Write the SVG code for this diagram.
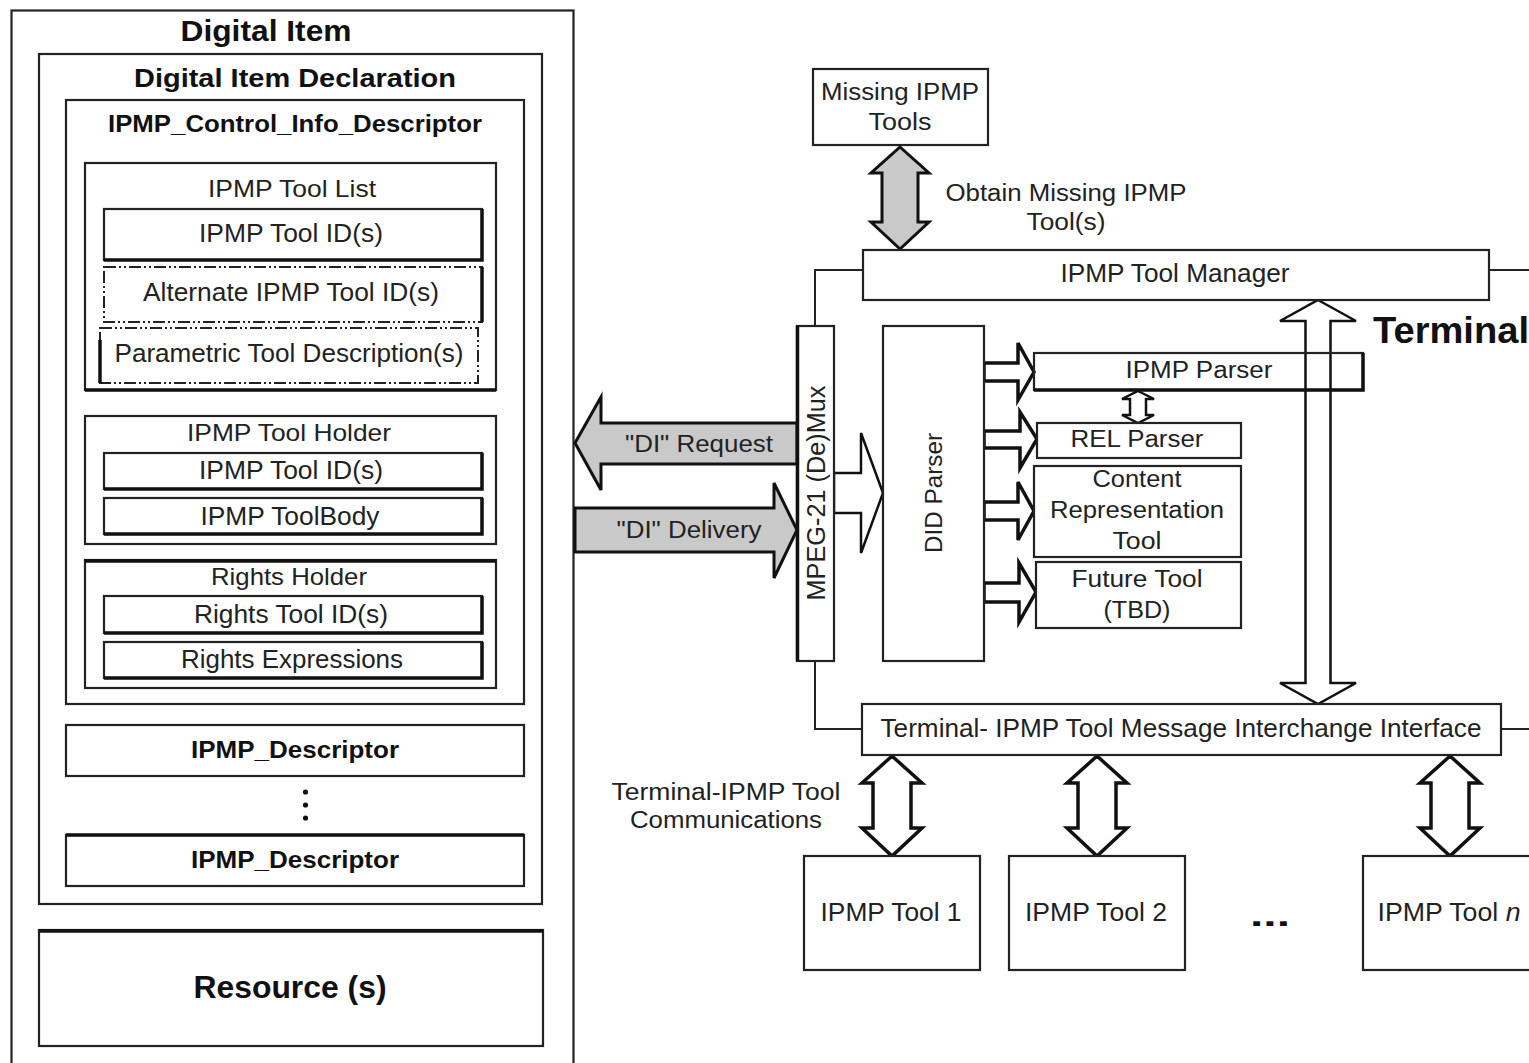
<svg xmlns="http://www.w3.org/2000/svg" width="1529" height="1063" viewBox="0 0 1529 1063">
<style>
.bx{fill:#fff;stroke:#222;stroke-width:2.2}
.bn{fill:none;stroke:#222;stroke-width:2.2}
.sh{fill:none;stroke:#111;stroke-width:3.5}
.dd{fill:#fff;stroke:#222;stroke-width:2;stroke-dasharray:12 3 2 3 2 3}
.t{font-family:"Liberation Sans",Arial,sans-serif;fill:#222;text-anchor:middle}
.bo{font-weight:bold;fill:#111}
.ln{fill:none;stroke:#222;stroke-width:2}
.ga{fill:#c9c9c9;stroke:#111;stroke-width:3;stroke-linejoin:miter}
.ha{fill:#fff;stroke:#111;stroke-width:2.5;stroke-linejoin:miter}
.hk{fill:#fff;stroke:#111;stroke-width:3.5;stroke-linejoin:miter}
</style>
<rect width="1529" height="1063" fill="#fff"/>

<g id="digital-item">
<rect x="11.5" y="10.5" width="562" height="1070" class="bn" stroke-width="2.5"/>
<text class="t bo" x="266" y="41" font-size="30" textLength="171" lengthAdjust="spacingAndGlyphs">Digital Item</text>
</g>
<g id="did">
<rect x="39" y="54" width="503" height="850" class="bx" stroke-width="2.5"/>
<text class="t bo" x="295" y="87" font-size="26" textLength="322" lengthAdjust="spacingAndGlyphs">Digital Item Declaration</text>
</g>
<g id="ipmp-control-info">
<rect x="66" y="100" width="458" height="604" class="bx"/>
<text class="t bo" x="295" y="132" font-size="24" textLength="374" lengthAdjust="spacingAndGlyphs">IPMP_Control_Info_Descriptor</text>
</g>
<g id="tool-list">
<rect x="85" y="163" width="411" height="227" class="bx"/>
<path d="M85 390H496" class="sh" stroke-width="3"/>
<text class="t" x="292" y="197" font-size="24" textLength="168" lengthAdjust="spacingAndGlyphs">IPMP Tool List</text>
</g>
<g id="tool-ids-1">
<rect x="104" y="209" width="378" height="51" class="bx"/>
<path d="M482 209V260H104" class="sh"/>
<text class="t" x="291" y="242" font-size="25" textLength="184" lengthAdjust="spacingAndGlyphs">IPMP Tool ID(s)</text>
</g>
<g id="alt-tool-ids">
<rect x="104" y="267" width="378" height="55" class="dd"/>
<path d="M482 267V322" class="sh"/>
<text class="t" x="291" y="301" font-size="25" textLength="296" lengthAdjust="spacingAndGlyphs">Alternate IPMP Tool ID(s)</text>
</g>
<g id="param-tool-desc">
<rect x="100" y="328" width="378" height="55" class="dd"/>
<path d="M100 340V383" class="sh" stroke-width="3"/>
<text class="t" x="289" y="362" font-size="25" textLength="349" lengthAdjust="spacingAndGlyphs">Parametric Tool Description(s)</text>
</g>
<g id="tool-holder">
<rect x="85" y="416" width="411" height="128" class="bx"/>
<text class="t" x="289" y="441" font-size="24" textLength="204" lengthAdjust="spacingAndGlyphs">IPMP Tool Holder</text>
</g>
<g id="tool-ids-2">
<rect x="104" y="453" width="378" height="36" class="bx"/>
<path d="M482 453V489H104" class="sh"/>
<text class="t" x="291" y="479" font-size="25" textLength="184" lengthAdjust="spacingAndGlyphs">IPMP Tool ID(s)</text>
</g>
<g id="toolbody">
<rect x="104" y="498" width="378" height="36" class="bx"/>
<path d="M482 498V534H104" class="sh"/>
<text class="t" x="290" y="525" font-size="25" textLength="179" lengthAdjust="spacingAndGlyphs">IPMP ToolBody</text>
</g>
<g id="rights-holder">
<rect x="85" y="560" width="411" height="128" class="bx"/>
<path d="M85 561H496" class="sh" stroke-width="3"/>
<text class="t" x="289" y="585" font-size="24" textLength="156" lengthAdjust="spacingAndGlyphs">Rights Holder</text>
</g>
<g id="rights-tool-ids">
<rect x="104" y="596" width="378" height="37" class="bx"/>
<path d="M482 596V633H104" class="sh"/>
<text class="t" x="291" y="623" font-size="25" textLength="194" lengthAdjust="spacingAndGlyphs">Rights Tool ID(s)</text>
</g>
<g id="rights-expr">
<rect x="104" y="642" width="378" height="36" class="bx"/>
<path d="M482 642V678H104" class="sh"/>
<text class="t" x="292" y="668" font-size="25" textLength="222" lengthAdjust="spacingAndGlyphs">Rights Expressions</text>
</g>
<g id="ipmp-desc-1">
<rect x="66" y="725" width="458" height="51" class="bx"/>
<text class="t bo" x="295" y="758" font-size="24" textLength="208" lengthAdjust="spacingAndGlyphs">IPMP_Descriptor</text>
</g>
<g id="vdots" fill="#111">
<circle cx="305.5" cy="792" r="2.6"/>
<circle cx="305.5" cy="805" r="2.6"/>
<circle cx="305.5" cy="818" r="2.6"/>
</g>
<g id="ipmp-desc-2">
<rect x="66" y="835" width="458" height="51" class="bx"/>
<path d="M66 835H524" class="sh" stroke-width="3"/>
<text class="t bo" x="295" y="868" font-size="24" textLength="208" lengthAdjust="spacingAndGlyphs">IPMP_Descriptor</text>
</g>
<g id="resources">
<rect x="39" y="930" width="504" height="116" class="bx" stroke-width="2.5"/>
<path d="M39 931H543" class="sh" stroke-width="3"/>
<text class="t bo" x="290" y="998" font-size="32" textLength="193" lengthAdjust="spacingAndGlyphs">Resource (s)</text>
</g>

<g id="connectors">
<path d="M863 270H815V326" class="ln"/>
<path d="M1489 270H1529" class="ln"/>
<path d="M815 661V729H862" class="ln"/>
<path d="M1501 729H1529" class="ln"/>
<polygon class="ga" points="900,147 929,173 918,173 918,222 929,222 900,249 871,222 882,222 882,173 871,173"/>
<polygon class="ga" points="575,443 601,397 601,423 797,423 797,464 601,464 601,490"/>
<polygon class="ga" points="575,508 774,508 774,483 797,530 774,578 774,552 575,552"/>
<polygon class="ha" points="834,473 861,473 861,433 883,493 861,553 861,513 834,513"/>
<polygon class="hk" points="984,363 1018,363 1018,343 1034,372 1018,400 1018,381 984,381"/>
<polygon class="hk" points="984,431 1020,431 1020,412 1037,439 1020,468 1020,448 984,448"/>
<polygon class="hk" points="984,502 1018,502 1018,482 1034,511 1018,540 1018,520 984,520"/>
<polygon class="hk" points="984,583 1019,583 1019,563 1036,592 1019,622 1019,602 984,602"/>
<polygon class="ha" points="1138,391 1154,399 1146,399 1146,415 1154,415 1138,423 1122,415 1130,415 1130,399 1122,399"/>
<polygon class="ha" points="1318,300 1356,321 1330.5,321 1330.5,683 1356,683 1318,704 1280,683 1305.5,683 1305.5,321 1280,321"/>
<polygon class="hk" points="892,756 922,783 911,783 911,828 922,828 892,856 862,828 873,828 873,783 862,783"/>
<polygon class="hk" points="1097,756 1127,783 1116,783 1116,828 1127,828 1097,856 1067,828 1078,828 1078,783 1067,783"/>
<polygon class="hk" points="1450,756 1480,783 1469,783 1469,828 1480,828 1450,856 1420,828 1431,828 1431,783 1420,783"/>
</g>

<g id="arrow-labels">
<text class="t" x="699" y="452" font-size="23" textLength="148" lengthAdjust="spacingAndGlyphs">"DI" Request</text>
<text class="t" x="689" y="538" font-size="23" textLength="145" lengthAdjust="spacingAndGlyphs">"DI" Delivery</text>
<text class="t" x="1066" y="201" font-size="23" textLength="241" lengthAdjust="spacingAndGlyphs">Obtain Missing IPMP</text>
<text class="t" x="1066" y="230" font-size="23" textLength="79" lengthAdjust="spacingAndGlyphs">Tool(s)</text>
<text class="t" x="726" y="800" font-size="23" textLength="229" lengthAdjust="spacingAndGlyphs">Terminal-IPMP Tool</text>
<text class="t" x="726" y="828" font-size="23" textLength="192" lengthAdjust="spacingAndGlyphs">Communications</text>
</g>

<g id="missing-tools">
<rect x="813" y="69" width="175" height="76" class="bx" stroke-width="3.2"/>
<text class="t" x="900" y="100" font-size="23" textLength="158" lengthAdjust="spacingAndGlyphs">Missing IPMP</text>
<text class="t" x="900" y="130" font-size="23" textLength="63" lengthAdjust="spacingAndGlyphs">Tools</text>
</g>
<g id="tool-manager">
<rect x="863" y="250" width="626" height="50" class="bx"/>
<text class="t" x="1175" y="282" font-size="25" textLength="229" lengthAdjust="spacingAndGlyphs">IPMP Tool Manager</text>
</g>
<g id="terminal-label">
<text class="t bo" x="1373" y="343" font-size="36" text-anchor="start" style="text-anchor:start" textLength="156" lengthAdjust="spacingAndGlyphs">Terminal</text>
</g>
<g id="mux">
<rect x="797" y="326" width="37" height="335" class="bx"/>
<path d="M797.5 326V661" class="sh"/>
<text class="t" transform="translate(825,493) rotate(-90)" font-size="25" textLength="215" lengthAdjust="spacingAndGlyphs">MPEG-21 (De)Mux</text>
</g>
<g id="did-parser">
<rect x="883" y="326" width="101" height="335" class="bx"/>
<text class="t" transform="translate(942,493) rotate(-90)" font-size="24" textLength="120" lengthAdjust="spacingAndGlyphs">DID Parser</text>
</g>
<g id="ipmp-parser">
<rect x="1034" y="353" width="329" height="37" class="bn" stroke-width="2.5"/>
<path d="M1034 390H1363V353" class="sh" stroke-width="3"/>
<text class="t" x="1199" y="378" font-size="23" textLength="147" lengthAdjust="spacingAndGlyphs">IPMP Parser</text>
</g>
<g id="rel-parser">
<rect x="1037" y="423" width="204" height="35" class="bx"/>
<text class="t" x="1137" y="447" font-size="23" textLength="133" lengthAdjust="spacingAndGlyphs">REL Parser</text>
</g>
<g id="content-rep">
<rect x="1034" y="466" width="207" height="91" class="bx" stroke-width="3"/>
<text class="t" x="1137" y="487" font-size="23" textLength="89" lengthAdjust="spacingAndGlyphs">Content</text>
<text class="t" x="1137" y="518" font-size="23" textLength="174" lengthAdjust="spacingAndGlyphs">Representation</text>
<text class="t" x="1137" y="549" font-size="23" textLength="49" lengthAdjust="spacingAndGlyphs">Tool</text>
</g>
<g id="future-tool">
<rect x="1036" y="562" width="205" height="66" class="bx"/>
<text class="t" x="1137" y="587" font-size="23" textLength="131" lengthAdjust="spacingAndGlyphs">Future Tool</text>
<text class="t" x="1137" y="618" font-size="23" textLength="67" lengthAdjust="spacingAndGlyphs">(TBD)</text>
</g>
<g id="interface">
<rect x="862" y="704" width="639" height="51" class="bx"/>
<text class="t" x="1181" y="737" font-size="25" textLength="601" lengthAdjust="spacingAndGlyphs">Terminal- IPMP Tool Message Interchange Interface</text>
</g>
<g id="tool-1">
<rect x="804" y="856" width="176" height="114" class="bx"/>
<text class="t" x="891" y="921" font-size="25" textLength="141" lengthAdjust="spacingAndGlyphs">IPMP Tool 1</text>
</g>
<g id="tool-2">
<rect x="1009" y="856" width="176" height="114" class="bx"/>
<text class="t" x="1096" y="921" font-size="25" textLength="142" lengthAdjust="spacingAndGlyphs">IPMP Tool 2</text>
</g>
<g id="ellipsis">
<text class="t bo" x="1270" y="926" font-size="32" textLength="40" lengthAdjust="spacingAndGlyphs">...</text>
</g>
<g id="tool-n">
<rect x="1363" y="856" width="180" height="114" class="bx"/>
<text class="t" x="1449" y="921" font-size="25" textLength="143" lengthAdjust="spacingAndGlyphs">IPMP Tool <tspan font-style="italic">n</tspan></text>
</g>
</svg>
